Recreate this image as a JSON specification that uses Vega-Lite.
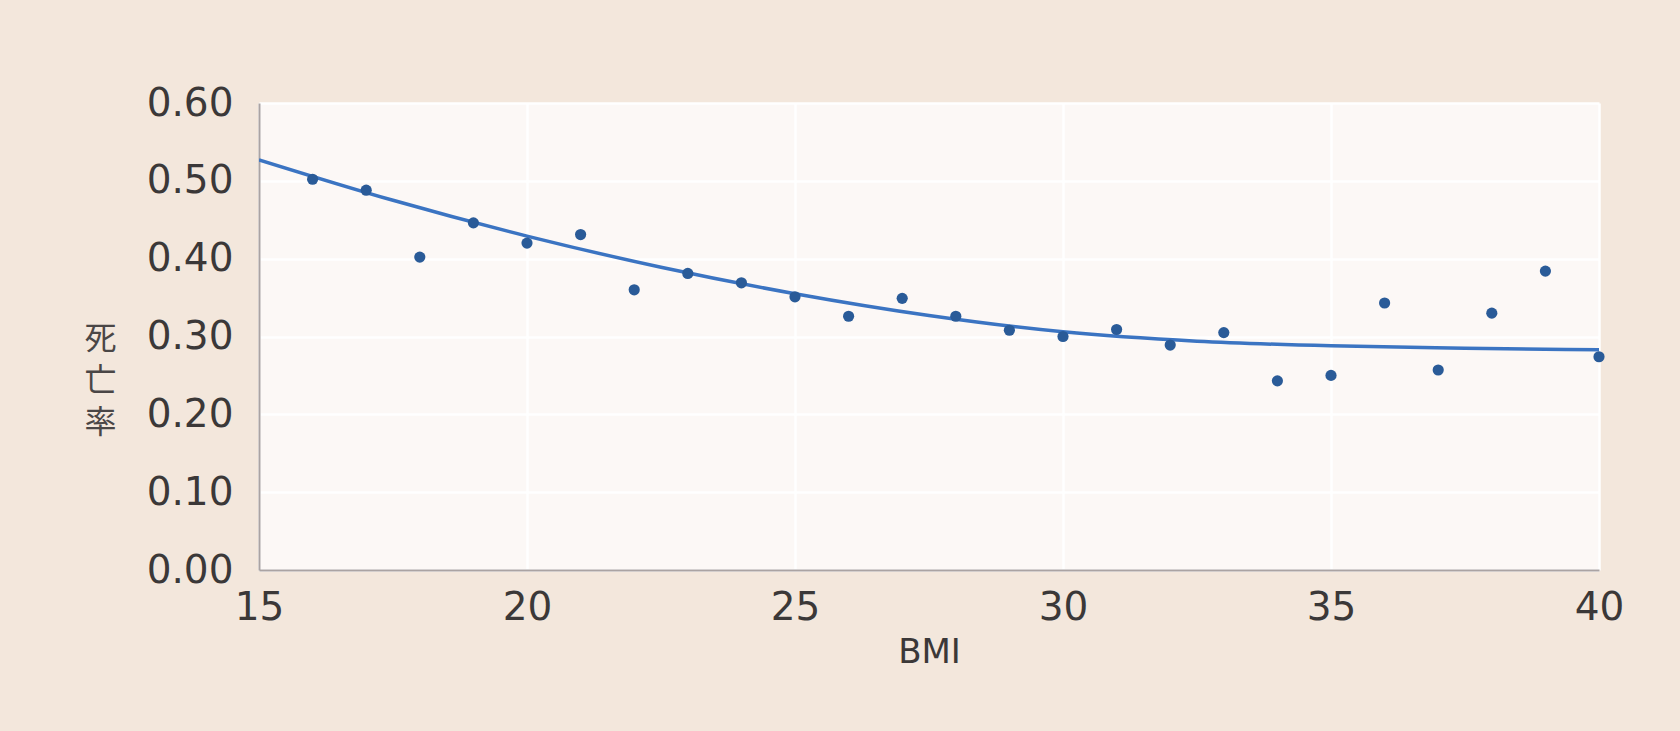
{
  "$schema": "https://vega.github.io/schema/vega-lite/v6.json",
  "width": 1340,
  "height": 467,
  "autosize": {"type": "none"},
  "padding": {"left": 259, "top": 103, "right": 81, "bottom": 161},
  "background": "#f3e7dc",
  "config": {
    "view": {"fill": "#fcf8f6", "stroke": null},
    "axis": {
      "labelFont": "DejaVu Sans",
      "labelColor": "#3b3838",
      "titleFont": "DejaVu Sans",
      "titleColor": "#3b3838",
      "titleFontWeight": "normal",
      "gridColor": "#ffffff",
      "gridWidth": 2.5,
      "gridOpacity": 1,
      "domainColor": "#aaa3a3",
      "domainWidth": 2,
      "ticks": false
    }
  },
  "datasets": {
    "points": [
      {"bmi": 16, "rate": 0.502},
      {"bmi": 17, "rate": 0.488},
      {"bmi": 18, "rate": 0.402},
      {"bmi": 19, "rate": 0.446},
      {"bmi": 20, "rate": 0.420},
      {"bmi": 21, "rate": 0.431},
      {"bmi": 22, "rate": 0.360},
      {"bmi": 23, "rate": 0.381},
      {"bmi": 24, "rate": 0.369},
      {"bmi": 25, "rate": 0.351},
      {"bmi": 26, "rate": 0.326},
      {"bmi": 27, "rate": 0.349},
      {"bmi": 28, "rate": 0.326},
      {"bmi": 29, "rate": 0.308},
      {"bmi": 30, "rate": 0.300},
      {"bmi": 31, "rate": 0.309},
      {"bmi": 32, "rate": 0.289},
      {"bmi": 33, "rate": 0.305},
      {"bmi": 34, "rate": 0.243},
      {"bmi": 35, "rate": 0.250},
      {"bmi": 36, "rate": 0.343},
      {"bmi": 37, "rate": 0.257},
      {"bmi": 38, "rate": 0.330},
      {"bmi": 39, "rate": 0.384},
      {"bmi": 40, "rate": 0.274}
    ],
    "curve": [
      {"bmi": 15, "rate": 0.527},
      {"bmi": 17.5, "rate": 0.475},
      {"bmi": 20, "rate": 0.429},
      {"bmi": 22.5, "rate": 0.389},
      {"bmi": 25, "rate": 0.355},
      {"bmi": 27.5, "rate": 0.327},
      {"bmi": 30, "rate": 0.306},
      {"bmi": 32.5, "rate": 0.294},
      {"bmi": 35, "rate": 0.288},
      {"bmi": 37.5, "rate": 0.285},
      {"bmi": 40, "rate": 0.283}
    ]
  },
  "encoding": {
    "x": {
      "field": "bmi",
      "type": "quantitative",
      "scale": {"domain": [15, 40], "nice": false, "zero": false},
      "axis": {
        "values": [15, 20, 25, 30, 35, 40],
        "title": "BMI",
        "titleFontSize": 34,
        "titlePadding": 8,
        "labelFontSize": 39,
        "labelPadding": 18,
        "labelFlush": false
      }
    },
    "y": {
      "field": "rate",
      "type": "quantitative",
      "scale": {"domain": [0, 0.6], "nice": false},
      "axis": {
        "values": [0, 0.1, 0.2, 0.3, 0.4, 0.5, 0.6],
        "format": ".2f",
        "labelFontSize": 39,
        "labelPadding": 26,
        "title": ["死", "亡", "率"],
        "titleFont": "Noto Sans CJK JP",
        "titleFontSize": 32,
        "titleColor": "#4a4646",
        "titleAngle": 0,
        "titleAlign": "center",
        "titleBaseline": "middle",
        "titleLineHeight": 42,
        "titleX": -159,
        "titleY": 235
      }
    }
  },
  "layer": [
    {
      "data": {"name": "curve"},
      "mark": {"type": "line", "color": "#3b74c2", "strokeWidth": 3.5, "interpolate": "monotone", "clip": true},
      "encoding": {}
    },
    {
      "data": {"name": "points"},
      "mark": {"type": "circle", "color": "#2a5b98", "size": 125, "opacity": 1}
    }
  ]
}
